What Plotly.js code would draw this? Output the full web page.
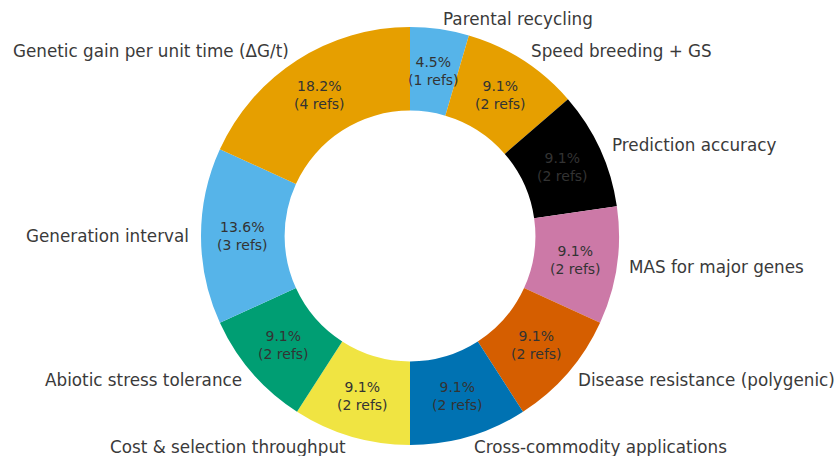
<!DOCTYPE html>
<html>
<head>
<meta charset="utf-8">
<script src="https://cdn.plot.ly/plotly-3.0.1.min.js"></script>
<style>html,body{margin:0;padding:0;background:#fff;}#chart{width:837px;height:456px;}</style>
</head>
<body>
<div id="chart"></div>
<script>
const categories = [
  "Genetic gain per unit time (ΔG/t)",
  "Generation interval",
  "Abiotic stress tolerance",
  "Cost & selection throughput",
  "Cross-commodity applications",
  "Disease resistance (polygenic)",
  "MAS for major genes",
  "Prediction accuracy",
  "Speed breeding + GS",
  "Parental recycling"
];
const refs = [4, 3, 2, 2, 2, 2, 2, 2, 2, 1];
const colors = ["#E69F00", "#56B4E9", "#009E73", "#F0E442", "#0072B2",
                "#D55E00", "#CC79A7", "#000000", "#E69F00", "#56B4E9"];

const W = 837, H = 456;
const cx = 410, cy = 236, R = 209;
const hole = 0.6;
const labelDist = 1.05, pctDist = 0.8;

const total = refs.reduce((a, b) => a + b, 0);
const annotations = [];
let start = 90;
refs.forEach((v, i) => {
  const span = v / total * 360;
  const mid = (start + span / 2) * Math.PI / 180;
  start += span;
  const c = Math.cos(mid), s = Math.sin(mid);
  const lx = cx + labelDist * R * c, ly = cy - labelDist * R * s;
  annotations.push({
    xref: "paper", yref: "paper", x: lx / W, y: 1 - ly / H,
    text: categories[i], showarrow: false,
    xanchor: c > 0 ? "left" : "right", yanchor: "middle",
    font: {family: "DejaVu Sans", size: 16.8, color: "#3a3a3a"}
  });
  const px = cx + pctDist * R * c, py = cy - pctDist * R * s;
  const pct = (v / total * 100).toFixed(1);
  annotations.push({
    xref: "paper", yref: "paper", x: px / W, y: 1 - py / H,
    text: pct + "%<br>(" + v + " refs)", showarrow: false,
    xanchor: "center", yanchor: "middle", align: "center",
    font: {family: "DejaVu Sans", size: 14, color: "#333333"}
  });
});

// slices counter-clockwise from 12 o'clock == reversed order clockwise from 12 o'clock
const trace = {
  type: "pie",
  labels: categories.slice().reverse(),
  values: refs.slice().reverse(),
  marker: {colors: colors.slice().reverse(), line: {width: 0}},
  hole: hole,
  sort: false,
  direction: "clockwise",
  rotation: 0,
  textinfo: "none",
  hoverinfo: "label+value+percent",
  showlegend: false,
  domain: {x: [(cx - R) / W, (cx + R) / W], y: [1 - (cy + R) / H, 1 - (cy - R) / H]}
};

Plotly.newPlot("chart", [trace], {
  width: W, height: H,
  margin: {l: 0, r: 0, t: 0, b: 0},
  paper_bgcolor: "#ffffff",
  showlegend: false,
  annotations: annotations,
  font: {family: "DejaVu Sans"}
}, {displayModeBar: false, staticPlot: true});
</script>
</body>
</html>
